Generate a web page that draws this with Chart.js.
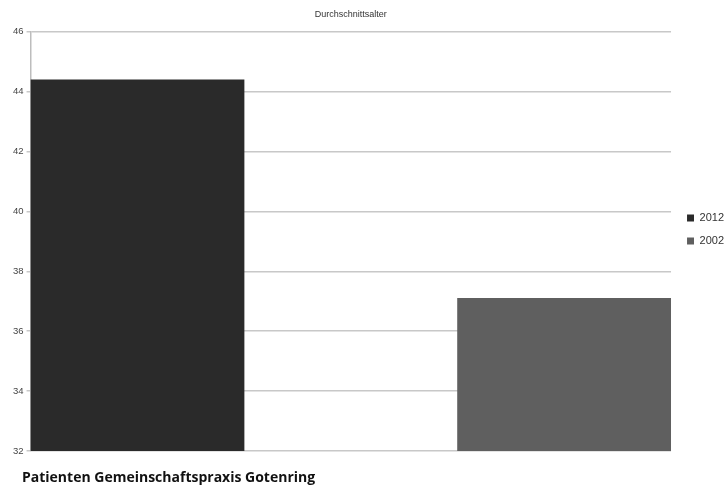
<!DOCTYPE html>
<html>
<head>
<meta charset="utf-8">
<script src="https://cdn.jsdelivr.net/npm/chart.js@4/dist/chart.umd.min.js"></script>
<style>
  body { margin: 0; background: #fff; }
  #wrap { position: relative; width: 725px; height: 488px; }
  #footer {
    position: absolute; left: 22px; top: 467px;
    font-family: "Open Sans", sans-serif; font-weight: bold; font-size: 14px;
    color: #111; letter-spacing: 0px;
  }
</style>
</head>
<body>
<div id="wrap">
  <canvas id="ageChart" width="725" height="488"></canvas>
  <div id="footer">Patienten Gemeinschaftspraxis Gotenring</div>
</div>
<script>
// slots along the x axis: first bar, empty gap, second bar
const slots = ['2012', '', '2002'];
const seriesNames = ['2012', '2002'];
const values2012 = [44.4];
const values2002 = [37.1];
const yTicks = [32, 34, 36, 38, 40, 42, 44, 46];

(function(){
    let ctx = document.getElementById('ageChart').getContext('2d');
    new Chart(ctx, {
        type: 'bar',
        data: {
            labels: slots,
            datasets: [
                {
                    label: seriesNames[0],
                    data: [values2012[0], null, null],
                    backgroundColor: '#2a2a2a',
                    borderColor: '#2a2a2a',
                    borderWidth: 0
                },
                {
                    label: seriesNames[1],
                    data: [null, null, values2002[0]],
                    backgroundColor: '#5f5f5f',
                    borderColor: '#5f5f5f',
                    borderWidth: 0
                }
            ]
        },
        options: {
            responsive: false,
            animation: false,
            skipNull: true,
            categoryPercentage: 1,
            barPercentage: 1,
            layout: { padding: { left: 10, right: -9, bottom: 29, top: 0 } },
            scales: {
                x: {
                    grid: { display: false },
                    border: { display: false },
                    ticks: { display: false }
                },
                y: {
                    min: 32,
                    max: 46,
                    afterBuildTicks: function(axis){
                        axis.ticks = yTicks.map(v => ({ value: v }));
                    },
                    grid: { color: '#c8c8c8', lineWidth: 1.5, tickLength: 4 },
                    border: { color: '#bdbdbd', width: 1.5 },
                    ticks: {
                        color: '#444',
                        padding: 3,
                        font: { family: 'Liberation Sans', size: 9.5 }
                    }
                },
                // empty spacer between plot and legend
                gap: {
                    position: 'right',
                    grid: { display: false },
                    border: { display: false },
                    ticks: { display: false },
                    afterFit: function(axis){ axis.width = 4; }
                }
            },
            plugins: {
                title: {
                    display: true,
                    text: 'Durchschnittsalter',
                    fullSize: false,
                    color: '#333',
                    padding: { top: 9, bottom: 12 },
                    font: { family: 'Liberation Sans', size: 9, weight: 'normal' }
                },
                legend: {
                    position: 'right',
                    labels: {
                        boxWidth: 7,
                        boxHeight: 7,
                        padding: 12,
                        color: '#333',
                        font: { family: 'Liberation Sans', size: 11 }
                    }
                },
                tooltip: { enabled: false }
            }
        }
    });
})();
</script>
</body>
</html>
